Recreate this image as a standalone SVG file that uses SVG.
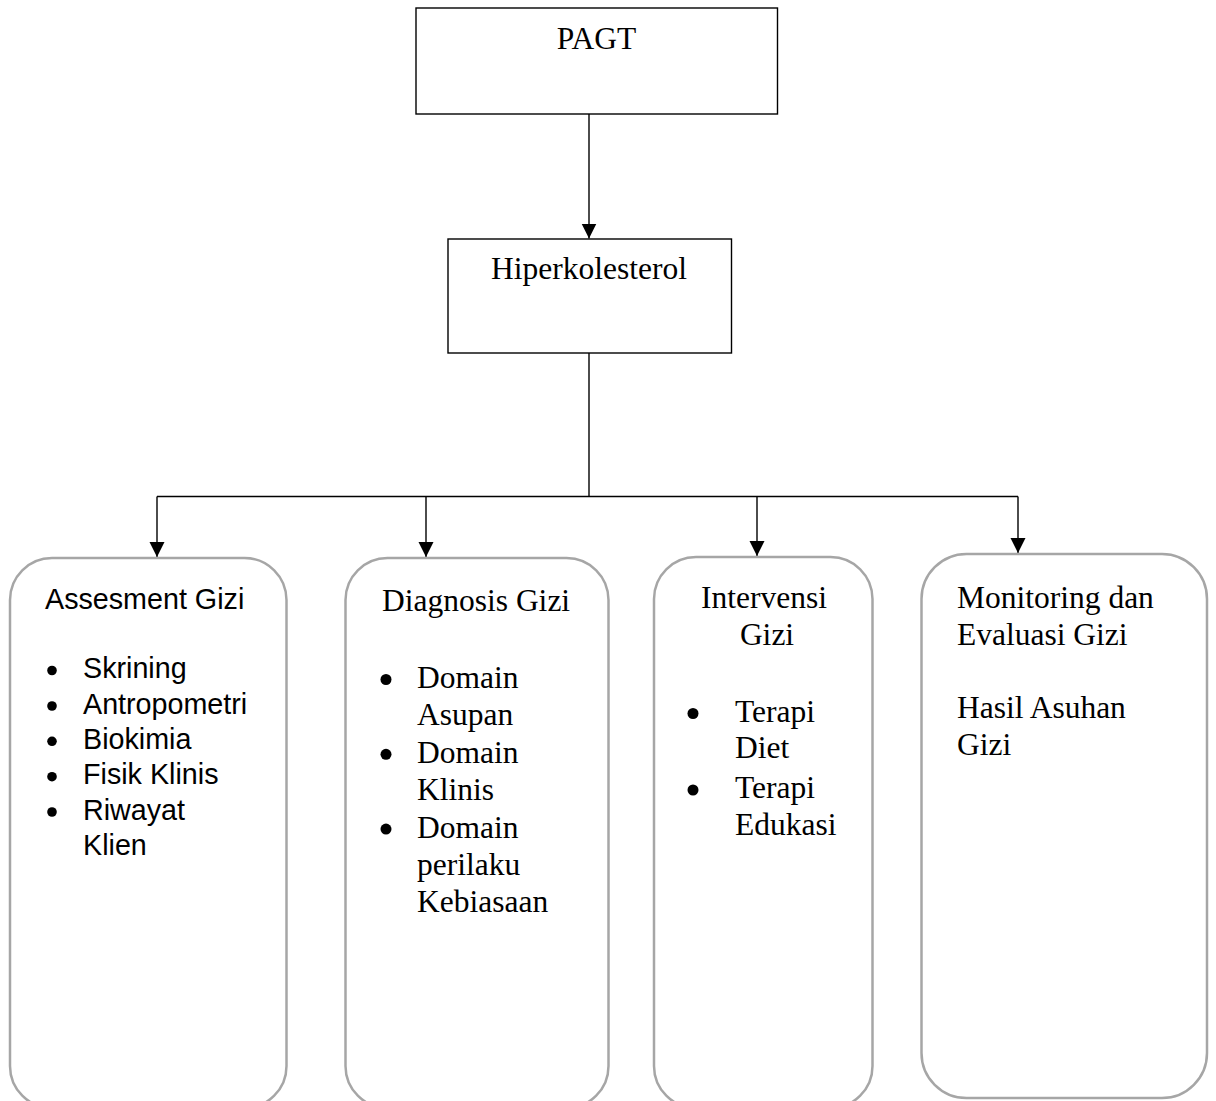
<svg xmlns="http://www.w3.org/2000/svg" width="1216" height="1101" viewBox="0 0 1216 1101">
<style>
.box{fill:#fff;stroke:#000;stroke-width:1.4}
.rbox{fill:#fff;stroke:#a6a6a6;stroke-width:2.5}
.serif{font-family:"Liberation Serif","Times New Roman",serif;font-size:31.5px;fill:#000}
.sans{font-family:"Liberation Sans",Arial,sans-serif;font-size:28.7px;fill:#000}
.line{fill:none;stroke:#000;stroke-width:1.4}
.dot{fill:#000}
</style>
<defs>
<marker id="arr" markerWidth="15" markerHeight="16" refX="15" refY="7.5" orient="auto" markerUnits="userSpaceOnUse">
<path d="M0,0 L15,7.5 L0,15 Z" fill="#000"/>
</marker>
</defs>
<rect width="1216" height="1101" fill="#fff"/>
<g id="connectors">
<line class="line" x1="589" y1="114" x2="589" y2="238.5" marker-end="url(#arr)"/>
<polyline class="line" points="589,353 589,496.5"/>
<line class="line" x1="157" y1="496.5" x2="1018" y2="496.5"/>
<line class="line" x1="157" y1="496.5" x2="157" y2="557" marker-end="url(#arr)"/>
<line class="line" x1="426" y1="496.5" x2="426" y2="557" marker-end="url(#arr)"/>
<line class="line" x1="757" y1="496.5" x2="757" y2="556" marker-end="url(#arr)"/>
<line class="line" x1="1018" y1="496.5" x2="1018" y2="553" marker-end="url(#arr)"/>
</g>
<g id="pagt">
<rect class="box" x="416" y="8" width="361.5" height="106"/>
<text class="serif" x="596.5" y="49.3" text-anchor="middle">PAGT</text>
</g>
<g id="hiperkolesterol">
<rect class="box" x="448" y="239" width="283.5" height="114"/>
<text class="serif" x="589" y="279" text-anchor="middle">Hiperkolesterol</text>
</g>
<g id="assesment">
<rect class="rbox" x="10" y="558" width="276.5" height="550" rx="42" ry="42"/>
<text class="sans" x="45" y="609">Assesment Gizi</text>
<circle class="dot" cx="52" cy="670.5" r="4.8"/>
<circle class="dot" cx="52" cy="706" r="4.8"/>
<circle class="dot" cx="52" cy="741.3" r="4.8"/>
<circle class="dot" cx="52" cy="776.7" r="4.8"/>
<circle class="dot" cx="52" cy="812" r="4.8"/>
<text class="sans" x="83" y="678.2">Skrining</text>
<text class="sans" x="83" y="713.6">Antropometri</text>
<text class="sans" x="83" y="749">Biokimia</text>
<text class="sans" x="83" y="784.4">Fisik Klinis</text>
<text class="sans" x="83" y="819.8">Riwayat</text>
<text class="sans" x="83" y="855.2">Klien</text>
</g>
<g id="diagnosis">
<rect class="rbox" x="345.5" y="558" width="263" height="550" rx="42" ry="42"/>
<text class="serif" x="382" y="610.7">Diagnosis Gizi</text>
<circle class="dot" cx="386" cy="679.5" r="5.5"/>
<circle class="dot" cx="386" cy="754.3" r="5.5"/>
<circle class="dot" cx="386" cy="829.1" r="5.5"/>
<text class="serif" x="417" y="688">Domain</text>
<text class="serif" x="417" y="725.4">Asupan</text>
<text class="serif" x="417" y="762.8">Domain</text>
<text class="serif" x="417" y="800.2">Klinis</text>
<text class="serif" x="417" y="837.6">Domain</text>
<text class="serif" x="417" y="875">perilaku</text>
<text class="serif" x="417" y="912.4">Kebiasaan</text>
</g>
<g id="intervensi">
<rect class="rbox" x="654" y="557" width="218.5" height="551" rx="42" ry="42"/>
<text class="serif" x="764" y="608" text-anchor="middle">Intervensi</text>
<text class="serif" x="767" y="645" text-anchor="middle">Gizi</text>
<circle class="dot" cx="693" cy="713.5" r="5.5"/>
<circle class="dot" cx="693" cy="790" r="5.5"/>
<text class="serif" x="735" y="722">Terapi</text>
<text class="serif" x="735" y="758.3">Diet</text>
<text class="serif" x="735" y="798.3">Terapi</text>
<text class="serif" x="735" y="835">Edukasi</text>
</g>
<g id="monitoring">
<rect class="rbox" x="921.5" y="554" width="285.5" height="544" rx="45" ry="45"/>
<text class="serif" x="957" y="608">Monitoring dan</text>
<text class="serif" x="957" y="645">Evaluasi Gizi</text>
<text class="serif" x="957" y="718">Hasil Asuhan</text>
<text class="serif" x="957" y="755">Gizi</text>
</g>
</svg>
